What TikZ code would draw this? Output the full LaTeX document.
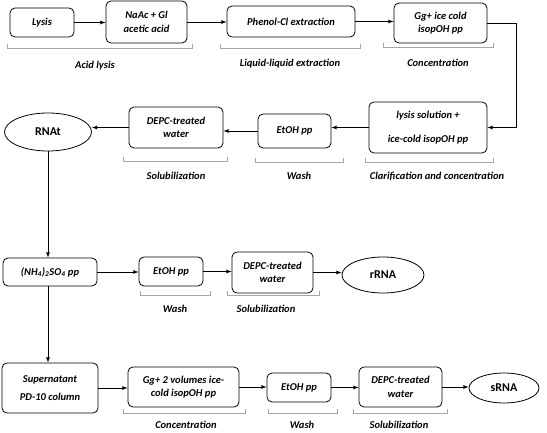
\documentclass[tikz,border=0pt]{standalone}
\usepackage{fontspec}
\setmainfont{Carlito}
\usetikzlibrary{arrows}
\usetikzlibrary{shapes.geometric}

\tikzset{
  stepbox/.style={draw,thick,rounded corners=5pt,align=center,inner sep=2pt,
    font=\fontsize{10.5}{13.5}\selectfont\bfseries\itshape},
  product/.style={draw,thick,ellipse,inner sep=0pt,font=\fontsize{12}{14}\selectfont\bfseries},
  stagebrace/.style={draw=gray!70,line width=0.7pt},
  stagelab/.style={font=\fontsize{10.5}{12}\selectfont\bfseries\itshape},
  flow/.style={thick,-latex}
}

\begin{document}
\begin{tikzpicture}[x=1pt,y=-1pt]
    \useasboundingbox (0,0) rectangle (547,433);
    % first row
    \node[stepbox,minimum width=64pt,minimum height=29pt] (lysis) at (42,22.5) {Lysis};
    \node[stepbox,minimum width=81pt,minimum height=42pt] (nagl) at (146.5,22) {NaAc + Gl\\acetic acid};
    \node[stepbox,minimum width=128pt,minimum height=31pt] (phenol) at (291,21.5) {Phenol-Cl extraction};
    \node[stepbox,minimum width=93pt,minimum height=40pt] (ggcold) at (440.5,23) {Gg+ ice cold\\isopOH pp};
    % second row
    \node[stepbox,minimum width=118pt,minimum height=51pt] (lysol) at (428,127.5) {lysis solution +\\[10pt]ice-cold isopOH pp};
    \node[stepbox,minimum width=73pt,minimum height=34pt] (etohA) at (294.5,131) {EtOH pp};
    \node[stepbox,minimum width=94pt,minimum height=41pt] (depcA) at (176,127.5) {DEPC-treated\\water};
    \node[product,minimum width=87pt,minimum height=38pt] (rnat) at (48,132) {RNAt};
    % third row
    \node[stepbox,minimum width=94pt,minimum height=28pt] (ammon) at (50,272) {(NH\textsubscript{4})\textsubscript{2}SO\textsubscript{4} pp};
    \node[stepbox,minimum width=64pt,minimum height=29pt] (etohB) at (171,271.5) {EtOH pp};
    \node[stepbox,minimum width=81pt,minimum height=41pt] (depcB) at (272.5,272.5) {DEPC-treated\\water};
    \node[product,minimum width=82pt,minimum height=36pt] (rrna) at (383,275) {rRNA};
    % fourth row
    \node[stepbox,minimum width=96pt,minimum height=50pt] (super) at (50,388) {Supernatant\\[5pt]PD-10 column};
    \node[stepbox,minimum width=111pt,minimum height=40pt] (ggvol) at (183.5,387) {Gg+ 2 volumes ice-\\cold isopOH pp};
    \node[stepbox,minimum width=64pt,minimum height=29pt] (etohC) at (299,387.5) {EtOH pp};
    \node[stepbox,minimum width=83pt,minimum height=40pt] (depcC) at (400.5,387) {DEPC-treated\\water};
    \node[product,minimum width=70pt,minimum height=30pt] (srna) at (504,388) {sRNA};

    \draw[flow] (lysis.east) -- (lysis.east -| nagl.west);
    \draw[flow] (nagl.east) -- (nagl.east -| phenol.west);
    \draw[flow] (phenol.east) -- (phenol.east -| ggcold.west);
    \draw[flow] (ggcold.east) -- ++(29,0) |- (lysol.east);
    \draw[flow] (lysol.west) -- (lysol.west -| etohA.east);
    \draw[flow] (etohA.west) -- (etohA.west -| depcA.east);
    \draw[flow] (depcA.west) -- (depcA.west -| rnat.east);
    \draw[flow] (rnat.south) -- (rnat.south |- ammon.north);
    \draw[flow] (ammon.east) -- (ammon.east -| etohB.west);
    \draw[flow] (etohB.east) -- (etohB.east -| depcB.west);
    \draw[flow] (depcB.east) -- (depcB.east -| rrna.west);
    \draw[flow] (ammon.south -| rnat.south) -- (rnat.south |- super.north);
    \draw[flow] (super.east) -- (super.east -| ggvol.west);
    \draw[flow] (ggvol.east) -- (ggvol.east -| etohC.west);
    \draw[flow] (etohC.east) -- (etohC.east -| depcC.west);
    \draw[flow] (depcC.east) -- (depcC.east -| srna.west);

    % stage brackets
    \draw[stagebrace] (7,44) -- (7,48) -- (192,48) -- (192,44);
    \node[stagelab] (acidlab) at (95,66) {Acid lysis};
    \draw[stagebrace] (220,44) -- (220,48) -- (360,48) -- (360,44);
    \node[stagelab] (liqlab) at (290,64) {Liquid-liquid extraction};
    \draw[stagebrace] (383,43) -- (383,47) -- (493,47) -- (493,43);
    \node[stagelab] (conclabA) at (438,63) {Concentration};

    \draw[stagebrace] (123,157) -- (123,161) -- (227,161) -- (227,157);
    \node[stagelab] (sollabA) at (176,176) {Solubilization};
    \draw[stagebrace] (255,158) -- (255,162) -- (343,162) -- (343,158);
    \node[stagelab] (washlabA) at (299,176) {Wash};
    \draw[stagebrace] (365,158) -- (365,162) -- (493,162) -- (493,158);
    \node[stagelab] (clarlab) at (437,176) {Clarification and concentration};

    \draw[stagebrace] (140,291) -- (140,295) -- (210,295) -- (210,291);
    \node[stagelab] (washlabB) at (175,309) {Wash};
    \draw[stagebrace] (227,291) -- (227,295) -- (319,295) -- (319,291);
    \node[stagelab] (sollabB) at (266,309) {Solubilization};

    \draw[stagebrace] (123,409) -- (123,413) -- (245,413) -- (245,409);
    \node[stagelab] (conclabB) at (186,425) {Concentration};
    \draw[stagebrace] (268,409) -- (268,413) -- (337,413) -- (337,409);
    \node[stagelab] (washlabC) at (302,425) {Wash};
    \draw[stagebrace] (353,409) -- (353,413) -- (447,413) -- (447,409);
    \node[stagelab] (sollabC) at (399,425) {Solubilization};
  \end{tikzpicture}
\end{document}
